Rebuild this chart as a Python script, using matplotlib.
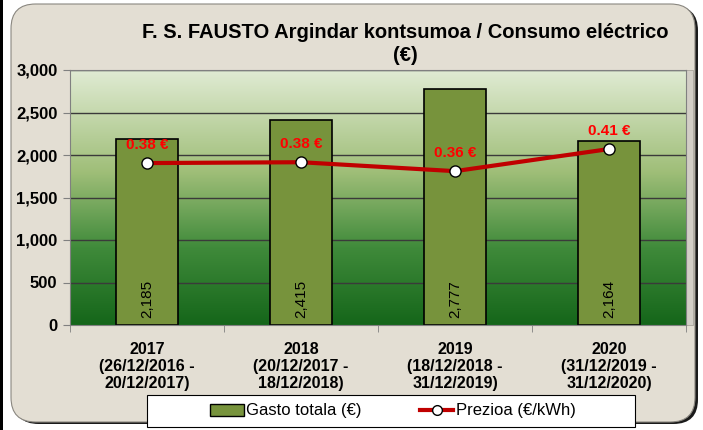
import matplotlib
matplotlib.use("Agg")
import matplotlib.pyplot as plt
import numpy as np
from matplotlib.colors import LinearSegmentedColormap
from matplotlib.patches import FancyBboxPatch, Rectangle, Patch
from matplotlib.lines import Line2D

plt.rcParams['font.family'] = ['Liberation Sans', 'DejaVu Sans']

years = ['2017\n(26/12/2016 -\n20/12/2017)',
         '2018\n(20/12/2017 -\n18/12/2018)',
         '2019\n(18/12/2018 -\n31/12/2019)',
         '2020\n(31/12/2019 -\n31/12/2020)']
gasto = [2185, 2415, 2777, 2164]
prezioa = [0.381, 0.383, 0.362, 0.414]
prezioa_labels = ['0.38 €', '0.38 €', '0.36 €', '0.41 €']
yticks = [0, 500, 1000, 1500, 2000, 2500, 3000]

W, H = 703, 430
fig = plt.figure(figsize=(W / 100, H / 100), dpi=100)
fig.patch.set_facecolor('white')

# panel background (rounded, beige) + dark edges
fig.patches.append(Rectangle((0, 0), 3 / W, 1, transform=fig.transFigure,
                             facecolor='black', edgecolor='none', zorder=-3))
fig.patches.append(FancyBboxPatch((14 / W, 6 / H), 684 / W, 418 / H,
                                  boxstyle='round,pad=0,rounding_size=0.035',
                                  transform=fig.transFigure, mutation_aspect=W / H,
                                  facecolor='#1a1a1a', edgecolor='none', zorder=-2))
fig.patches.append(FancyBboxPatch((11 / W, 8 / H), 684 / W, 418 / H,
                                  boxstyle='round,pad=0,rounding_size=0.035',
                                  transform=fig.transFigure, mutation_aspect=W / H,
                                  facecolor='#e3ded3', edgecolor='#8a8780',
                                  linewidth=0.8, zorder=-1))
# light strip right of the plot area
fig.patches.append(Rectangle((686 / W, (H - 325) / H), 7 / W, 255 / H,
                             transform=fig.transFigure, facecolor='#d2cec6',
                             edgecolor='#a8a49c', linewidth=0.6, zorder=-0.5))

ax = fig.add_axes([70 / W, (H - 325) / H, 616 / W, 255 / H])
x = np.arange(len(gasto))

# green gradient background
cmap = LinearSegmentedColormap.from_list('bg', [(0, '#15661a'), (0.3, '#3f8a3a'),
                                                (0.6, '#9fbe78'), (1, '#e0ebd3')])
grad = np.linspace(0, 1, 256).reshape(-1, 1)
ax.imshow(grad, aspect='auto', cmap=cmap, origin='lower',
          extent=[-0.5, len(gasto) - 0.5, 0, 3000], zorder=0)

for t in yticks[1:]:
    ax.axhline(t, color='#3a3a3a', linewidth=1, zorder=1)

bars = ax.bar(x, gasto, width=0.4, color='#77933c', edgecolor='black',
              linewidth=1.2, zorder=2)
for xi, v in zip(x, gasto):
    ax.annotate(f'{v:,}', xy=(xi, 0), xytext=(0, 5), textcoords='offset points',
                rotation=90, ha='center', va='bottom', fontsize=11, zorder=5)

ax.set_xlim(-0.5, len(gasto) - 0.5)
ax.set_ylim(0, 3000)
ax.set_yticks(yticks)
ax.set_yticklabels([f'{t:,}' for t in yticks], fontsize=12, fontweight='bold')
ax.set_xticks(x)
ax.set_xticklabels(years, fontsize=11.5, fontweight='bold')
ax.set_xticks(np.arange(len(gasto) + 1) - 0.5, minor=True)
ax.tick_params(axis='x', which='major', length=0, pad=12)
ax.tick_params(axis='x', which='minor', length=5, color='#808080')
ax.tick_params(axis='y', length=5, color='#808080', pad=4)
for s in ax.spines.values():
    s.set_color('#808080')

ax2 = ax.twinx()
ax2.set_ylim(0, 0.6)
ax2.plot(x, prezioa, color='#c00000', linewidth=3, marker='o', markersize=8,
         markerfacecolor='white', markeredgecolor='black', markeredgewidth=1, zorder=4)
for xi, p, lab in zip(x, prezioa, prezioa_labels):
    ax2.annotate(lab, xy=(xi, p), xytext=(0, 8), textcoords='offset points',
                 ha='center', va='bottom', color='red', fontsize=11, fontweight='bold')
ax2.set_yticks([])
for s in ax2.spines.values():
    s.set_visible(False)

fig.text(405 / W, 1 - 44 / H, 'F. S. FAUSTO Argindar kontsumoa / Consumo eléctrico\n(€)',
         ha='center', va='center', fontsize=14.5, fontweight='bold', linespacing=1.25)

# legend box (wider than its content, as in the original)
fig.patches.append(Rectangle((147 / W, 1 - 427 / H), 488 / W, 32 / H,
                             transform=fig.transFigure, facecolor='white',
                             edgecolor='black', linewidth=0.8, zorder=1))
handles = [Patch(facecolor='#77933c', edgecolor='black', label='Gasto totala (€)'),
           Line2D([0], [0], color='#c00000', linewidth=3, marker='o', markersize=7,
                  markerfacecolor='white', markeredgecolor='black', label='Prezioa (€/kWh)')]
leg = fig.legend(handles=handles, loc='center', bbox_to_anchor=(393 / W, 1 - 411 / H),
                 ncol=2, fontsize=12, frameon=False, columnspacing=3.5,
                 handlelength=2.0, handletextpad=0.15)
leg.set_zorder(2)

fig.savefig('out.png', dpi=100)
